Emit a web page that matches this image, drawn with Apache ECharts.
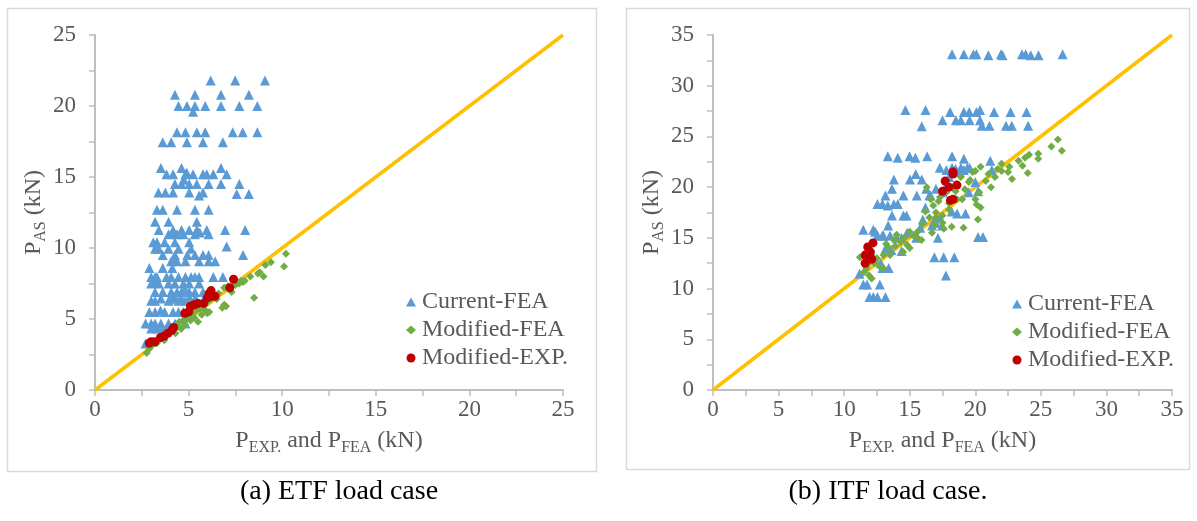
<!DOCTYPE html>
<html>
<head>
<meta charset="utf-8">
<script src="https://cdn.jsdelivr.net/npm/echarts@6/dist/echarts.min.js"></script>
<style>html,body{margin:0;padding:0;background:#fff;}#c{width:1197px;height:521px;}</style>
</head>
<body>
<div id="c"></div>
<script>
// ---------- DATA ----------
var legendNames = ['Current-FEA', 'Modified-FEA', 'Modified-EXP.'];
var captions = ['(a) ETF load case', '(b) ITF load case.'];
var etfMax = 25, itfMax = 35;

var etfCurrent = [
[6.18,21.8],[7.49,21.8],[9.08,21.8],
[4.27,20.8],[5.34,20.8],[6.73,20.8],[8.22,20.8],
[4.46,20.0],[4.91,20.0],[5.34,20.0],[5.89,20.0],[6.73,20.0],[7.71,20.0],[8.67,20.0],[5.24,19.6],
[4.38,18.15],[4.83,18.15],[5.44,18.15],[5.89,18.15],[7.36,18.15],[7.89,18.15],[8.67,18.15],
[3.62,17.45],[4.07,17.45],[4.91,17.45],[5.77,17.45],[6.83,17.45],
[3.52,15.64],[4.62,15.64],[6.73,15.64],
[3.82,15.2],[4.17,15.2],[4.83,15.2],[5.24,15.2],[5.77,15.2],[5.97,15.2],[6.32,15.2],[7.03,15.2],[4.9,15.3],
[4.27,14.5],[4.62,14.5],[5.03,14.5],[5.44,14.5],[6.07,14.5],[6.73,14.5],[7.71,14.5],[4.75,14.8],
[3.39,13.9],[3.76,13.9],[4.17,13.9],[5.03,13.9],[5.77,13.9],[5.56,13.7],[7.57,13.8],[8.22,13.8],
[3.31,12.7],[3.62,12.7],[4.38,12.7],[5.34,12.7],[6.07,12.7],
[3.21,11.85],[3.93,11.85],[5.44,11.85],
[3.41,11.26],[4.17,11.26],[4.62,11.26],[5.03,11.26],[5.44,11.26],[5.97,11.26],[6.95,11.26],[8.02,11.26],
[3.93,10.96],[4.38,10.96],[4.72,10.96],[5.34,10.96],[6.07,10.96],[4.2,11.0],[5.6,11.1],
[3.11,10.4],[3.31,10.4],[3.72,10.4],[4.27,10.4],[5.03,10.4],[7.03,10.1],
[3.21,9.95],[3.41,9.95],[3.93,9.95],[4.46,9.95],[5.13,9.95],
[3.62,9.5],[4.27,9.5],[4.93,9.5],[5.34,9.5],[5.77,9.5],[6.07,9.5],[7.91,9.5],
[4.07,9.06],[4.38,9.06],[4.83,9.06],[5.56,9.06],[6.07,9.06],[6.42,9.06],[4.25,9.2],
[2.9,8.6],[3.62,8.6],[4.13,8.6],
[3.0,7.96],[3.21,7.96],[3.31,7.96],[3.82,7.96],[4.07,7.96],[4.46,7.96],[4.83,7.96],[5.13,7.96],[5.34,7.96],[5.56,7.96],[6.32,7.96],[6.83,7.96],
[3.0,7.5],[3.41,7.5],[3.93,7.5],[4.27,7.5],[4.72,7.5],[5.03,7.5],[5.56,7.5],[3.2,7.6],
[3.21,6.9],[3.62,6.9],[4.07,6.9],[4.38,6.9],[4.62,6.9],[5.03,6.9],[5.34,6.9],[5.77,6.9],[4.8,7.1],
[3.52,6.44],[4.07,6.44],[4.27,6.44],[4.62,6.44],[5.03,6.44],[5.34,6.44],
[3.0,6.28],[3.21,6.28],[3.93,6.28],[4.46,6.28],[4.83,6.28],[5.13,6.28],[5.44,6.28],[5.77,6.28],[4.2,6.6],
[2.9,5.5],[3.21,5.5],[3.72,5.5],[4.17,5.5],[4.46,5.5],[4.72,5.5],[3.5,5.6],
[2.7,4.68],[3.0,4.68],[3.21,4.68],[3.52,4.68],[3.93,4.68],[4.27,4.68],[4.83,4.68],
[3.0,4.33],[3.31,4.33],[3.62,4.33],[3.82,4.33],
[2.7,3.28]
];
var etfModFEA = [
[2.76,2.6],[2.9,2.9],[3.0,3.1],[3.2,3.3],[3.3,3.3],[3.4,3.5],[3.6,3.7],[3.7,3.5],[3.8,3.9],[4.0,4.0],
[4.2,4.2],[4.3,4.0],[4.4,4.5],[4.5,4.8],[4.6,4.3],[4.7,4.9],[4.8,4.6],[4.9,5.0],[5.0,5.2],[5.1,4.9],
[5.2,5.4],[5.3,5.1],[5.4,5.6],[5.5,4.8],[5.6,5.7],[5.7,5.3],[5.8,5.9],[5.9,5.6],[6.0,5.4],[6.1,5.5],
[6.0,6.2],[6.2,6.4],[6.4,6.6],[6.5,6.4],[6.6,6.8],[6.8,5.8],[6.9,6.0],[7.0,5.9],[6.9,7.2],[7.1,7.3],
[7.3,6.9],[7.5,7.4],[7.7,7.5],[7.8,7.7],[7.9,7.6],[8.0,7.7],[8.3,8.0],[8.5,6.5],[8.7,8.2],[8.8,8.3],
[9.0,8.0],[9.1,8.8],[9.4,9.0],[10.1,8.7],[10.2,9.6]
];
var etfModEXP = [
[2.9,3.3],[3.0,3.4],[3.2,3.4],[3.5,3.7],[3.7,3.8],[3.9,4.0],[4.1,4.2],[4.2,4.4],
[4.8,5.4],[5.0,5.5],[5.1,5.9],[5.3,6.0],[5.5,6.1],[5.8,6.1],[6.0,6.5],[6.1,6.8],
[6.2,6.6],[6.2,7.0],[6.4,6.6],[7.2,7.2],[7.4,7.8]
];

var itfCurrent = [
[18.23,33.1],[19.13,33.1],[19.86,33.1],[20.09,33.1],[21.0,33.0],[21.96,33.1],[22.08,33.0],[23.56,33.1],[23.85,33.1],[24.23,33.0],[24.82,33.0],[26.66,33.1],
[14.67,27.6],[16.21,27.6],[18.08,27.4],[19.13,27.4],[19.54,27.4],[20.09,27.4],[20.36,27.6],[21.43,27.4],[22.69,27.4],[23.91,27.4],
[17.5,26.6],[18.52,26.6],[18.9,26.6],[19.57,26.6],[20.36,26.6],
[15.92,26.0],[20.5,26.06],[21.08,26.06],[22.34,26.06],[22.78,26.06],[24.03,26.06],
[13.33,23.04],[14.09,22.9],[14.99,23.04],[15.43,22.9],[16.33,23.04],[18.23,23.04],[19.13,22.8],[21.14,22.6],
[17.29,21.9],[17.79,21.7],[18.23,21.9],[18.9,21.9],[19.13,21.7],[19.39,21.9],[19.57,21.9],[21.26,21.7],
[15.46,21.3],[13.79,20.75],[15.02,20.75],[15.92,20.75],
[13.65,19.83],[16.27,19.83],[17.0,19.83],[20.21,19.6],
[13.15,19.17],[14.52,19.17],[15.54,19.17],[16.59,19.17],
[12.54,18.35],[12.92,18.35],[13.33,18.2],[13.79,18.35],[14.09,18.35],
[13.65,17.2],[14.52,17.2],[14.76,17.2],[18.61,17.4],[19.25,17.4],
[13.36,16.22],[16.71,16.22],[17.0,16.5],[17.47,16.22],
[11.46,15.8],[12.22,15.8],[12.37,15.6],
[12.54,15.24],[12.92,15.24],[13.5,15.24],[14.38,15.0],[17.15,15.0],[20.21,15.08],[20.59,15.08],
[13.15,13.93],[14.38,13.7],
[16.88,13.1],[17.59,13.1],[18.4,13.1],
[12.92,12.03],[13.39,12.03],[17.76,11.3],[11.17,11.47],
[11.46,10.39],[11.75,10.39],[12.72,10.39],
[11.93,9.18],[12.22,9.18],[12.54,9.18],[13.15,9.18],
[16.5,19.2],[17.5,19.5],[18.0,21.0],[18.5,21.8],[16.0,16.8],[16.8,16.5],[17.3,17.0],[18.2,17.6],
[19.5,19.5],[20.0,20.5],[15.5,15.0],[14.8,15.5],[14.0,15.0],[13.0,15.2],[12.3,13.0],[12.8,12.5],[13.6,13.8],
[17.8,20.2],[18.8,21.5],[16.2,18.0],[15.8,16.0]
];
var itfModFEA = [
[11.2,13.1],[11.5,11.6],[11.7,12.0],[11.8,12.4],[11.9,11.3],[12.0,13.8],[12.1,11.0],[12.3,12.5],[12.5,13.0],[12.7,12.2],
[13.0,12.0],[13.0,13.3],[13.2,14.4],[13.4,14.0],[13.5,13.3],[13.8,14.8],[13.9,14.2],[14.0,15.3],[14.3,14.6],[14.5,13.6],
[14.6,15.0],[14.8,14.3],[15.0,14.0],[15.0,15.6],[15.3,15.2],[15.6,15.6],[15.6,15.0],[15.9,14.8],[16.0,16.4],[16.2,17.6],
[16.3,20.0],[16.5,17.0],[16.6,18.8],[16.7,15.5],[16.8,18.2],[16.9,16.3],[17.0,17.5],[17.0,17.0],[17.2,18.6],[17.3,19.0],
[17.5,16.5],[17.5,17.2],[17.6,15.9],[17.8,19.5],[18.0,17.8],[18.0,18.4],[18.2,16.1],[18.3,20.0],[18.5,19.6],[18.6,18.8],
[18.9,21.0],[19.0,18.8],[19.1,16.0],[19.2,19.8],[19.5,20.5],[19.6,20.7],[19.8,21.5],[20.0,18.8],[20.0,21.6],[20.1,18.3],
[20.2,16.8],[20.3,19.5],[20.4,22.0],[20.4,18.0],[20.8,20.6],[21.0,21.3],[21.2,20.0],[21.5,21.0],[21.7,21.8],[22.0,21.6],
[22.0,22.3],[22.5,21.5],[22.6,22.0],[22.8,20.8],[23.3,22.6],[23.6,22.1],[23.8,22.9],[24.0,21.4],[24.1,23.2],[24.8,22.8],
[24.8,23.3],[25.8,24.0],[26.3,24.7],[26.6,23.6]
];
var itfModEXP = [
[11.6,12.5],[11.6,13.3],[11.8,14.1],[11.9,13.0],[12.0,13.6],[12.1,12.9],[12.2,14.5],
[17.5,19.6],[17.7,20.6],[18.0,20.0],[18.1,18.7],[18.3,18.8],[18.3,21.3],[18.3,21.5],[18.6,20.2]
];
var etfDiag = [[0,0],[etfMax,etfMax]];
var itfDiag = [[0,0],[itfMax,itfMax]];

// ---------- STYLE ----------
var FONT = '"Liberation Serif", "Times New Roman", serif';
var GRAY = '#595959';
var AXC = '#bfbfbf';
var colors = ['#5B9BD5', '#70AD47', '#C00000'];

var rich = {
  m: {fontFamily: FONT, fontSize: 24, color: GRAY, lineHeight: 30, verticalAlign: 'middle'},
  s: {fontFamily: FONT, fontSize: 16, color: GRAY, lineHeight: 15, verticalAlign: 'bottom'}
};

function mkX(gi, max) {
  return {
    type: 'value', gridIndex: gi, min: 0, max: max, interval: 2.5,
    name: '{m|P}{s|EXP.}{m| and P}{s|FEA}{m| (kN)}',
    nameLocation: 'middle', nameGap: 36,
    nameTextStyle: {rich: rich},
    axisLine: {show: true, lineStyle: {color: AXC, width: 2}},
    axisTick: {show: true, length: 6, lineStyle: {color: AXC, width: 1.5}},
    splitLine: {show: false},
    axisLabel: {
      margin: 8, fontFamily: FONT, fontSize: 23, color: GRAY,
      formatter: function (v) { return (Math.abs(v % 5) < 1e-9) ? String(v) : ''; }
    }
  };
}
function mkY(gi, max) {
  return {
    type: 'value', gridIndex: gi, min: 0, max: max, interval: 2.5,
    name: '{m|P}{s|AS}{m| (kN)}',
    nameLocation: 'middle', nameGap: 45,
    nameTextStyle: {rich: rich},
    axisLine: {show: true, lineStyle: {color: AXC, width: 2}},
    axisTick: {show: true, length: 6, lineStyle: {color: AXC, width: 1.5}},
    splitLine: {show: false},
    axisLabel: {
      margin: 19, fontFamily: FONT, fontSize: 23, color: GRAY,
      formatter: function (v) { return (Math.abs(v % 5) < 1e-9) ? String(v) : ''; }
    }
  };
}
function scat(name, data, gi, sym, size, color) {
  return {
    type: 'scatter', name: name, data: data, xAxisIndex: gi, yAxisIndex: gi,
    symbol: sym, symbolSize: size, itemStyle: {color: color, opacity: 1},
    emphasis: {disabled: true}, animation: false
  };
}
function diag(data, gi) {
  return {
    type: 'line', data: data, xAxisIndex: gi, yAxisIndex: gi, symbol: 'none',
    lineStyle: {color: '#FFC000', width: 3.5}, silent: true, animation: false, z: 1
  };
}
function mkLegend(left, top) {
  return {
    orient: 'vertical', left: left, top: top, itemGap: 4, itemWidth: 10, itemHeight: 9,
    textStyle: {fontFamily: FONT, fontSize: 24, color: GRAY, padding: [0, 0, 0, 1]},
    data: [
      {name: legendNames[0], icon: 'triangle'},
      {name: legendNames[1], icon: 'diamond'},
      {name: legendNames[2], icon: 'circle'}
    ]
  };
}

var chart = echarts.init(document.getElementById('c'), null, {renderer: 'canvas'});
chart.setOption({
  backgroundColor: '#ffffff',
  animation: false,
  grid: [
    {left: 95, top: 35, width: 468, height: 355},
    {left: 713, top: 35, width: 459, height: 355}
  ],
  xAxis: [mkX(0, etfMax), mkX(1, itfMax)],
  yAxis: [mkY(0, etfMax), mkY(1, itfMax)],
  legend: [mkLegend(401, 285), mkLegend(1007, 287)],
  series: [
    diag(etfDiag, 0),
    scat(legendNames[0], etfCurrent, 0, 'triangle', 10, colors[0]),
    scat(legendNames[1], etfModFEA, 0, 'diamond', 8, colors[1]),
    scat(legendNames[2], etfModEXP, 0, 'circle', 9, colors[2]),
    diag(itfDiag, 1),
    scat(legendNames[0], itfCurrent, 1, 'triangle', 10, colors[0]),
    scat(legendNames[1], itfModFEA, 1, 'diamond', 8, colors[1]),
    scat(legendNames[2], itfModEXP, 1, 'circle', 9, colors[2])
  ],
  graphic: [
    {type: 'rect', shape: {x: 7.5, y: 8.5, width: 589, height: 463}, style: {fill: 'none', stroke: '#d9d9d9', lineWidth: 1.5}, silent: true},
    {type: 'rect', shape: {x: 626.5, y: 8.5, width: 563, height: 461}, style: {fill: 'none', stroke: '#d9d9d9', lineWidth: 1.5}, silent: true},
    {type: 'text', style: {text: captions[0], x: 339, y: 492, align: 'center', verticalAlign: 'middle', font: '28px ' + FONT, fill: '#000'}, silent: true},
    {type: 'text', style: {text: captions[1], x: 888, y: 492, align: 'center', verticalAlign: 'middle', font: '28px ' + FONT, fill: '#000'}, silent: true}
  ]
});
</script>
</body>
</html>
